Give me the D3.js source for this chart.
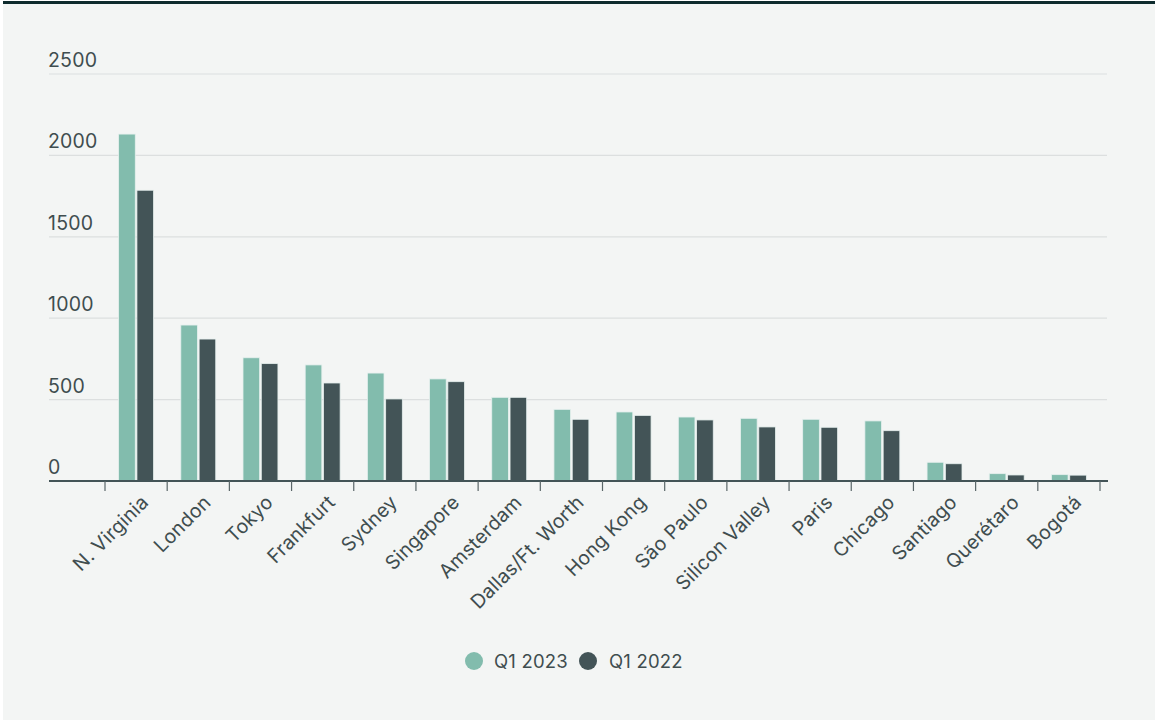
<!DOCTYPE html>
<html><head><meta charset="utf-8">
<script src="https://cdn.jsdelivr.net/npm/d3@7"></script>
<style>
html,body{margin:0;padding:0;background:#fff;}
svg{display:block;font-family:Inter,"Noto Sans",sans-serif;}
</style></head>
<body><svg id="c" width="1159" height="724"></svg>
<script>
const categories = ["N. Virginia","London","Tokyo","Frankfurt","Sydney","Singapore","Amsterdam","Dallas/Ft. Worth","Hong Kong","São Paulo","Silicon Valley","Paris","Chicago","Santiago","Querétaro","Bogotá"];
const q12023 = [2131,958,757,713,663,627,514,440,424,393,385,379,369,115,45,39];
const q12022 = [1786,872,721,602,504,610,514,379,403,375,332,330,309,106,37,36];
const seriesNames = ["Q1 2023","Q1 2022"];
const yTicks = [0,500,1000,1500,2000,2500];
const colors = ["#82bcad","#435457"];
const textColor = "#3f4d4f";

const svg = d3.select("#c");
svg.append("rect").attr("x",3).attr("y",2).attr("width",1152).attr("height",718).attr("fill","#f3f5f4");
svg.append("rect").attr("x",3).attr("y",1).attr("width",1152).attr("height",3).attr("fill","#0e2b2d");

const left = 49, right = 1107, x0 = 105, x1 = 1100, yTop = 74, yBase = 481;
const y = d3.scaleLinear().domain([0,2500]).range([yBase,yTop]);
const x = d3.scaleBand().domain(categories).range([x0,x1]).paddingInner(0).paddingOuter(0);
const xs = d3.scaleBand().domain(seriesNames).range([0,x.bandwidth()]).paddingInner(0.09).paddingOuter(0.745);

// gridlines + labels
const g = svg.append("g");
yTicks.forEach(t=>{
  if(t>0) g.append("line").attr("x1",left).attr("x2",right).attr("y1",y(t)).attr("y2",y(t)).attr("stroke","#dcdfdf").attr("stroke-width",1.2);
  g.append("text").attr("x",left-1).attr("y",y(t)-7).attr("fill",textColor).attr("font-size",19.5).attr("letter-spacing",0.2).text(t);
});

// bars
const data = [q12023,q12022];
data.forEach((vals,si)=>{
  svg.append("g").selectAll("rect").data(vals).join("rect")
    .attr("x",(d,i)=>x(categories[i])+xs(seriesNames[si]))
    .attr("width",xs.bandwidth())
    .attr("y",d=>y(d))
    .attr("height",d=>yBase-y(d))
    .attr("fill",colors[si])
    .attr("stroke","#e6f0ee").attr("stroke-width",0.8);
});

// x axis
const ax = svg.append("g").attr("transform",`translate(0,${yBase})`);
ax.append("line").attr("x1",left).attr("x2",1108).attr("y1",0).attr("y2",0).attr("stroke","#435457").attr("stroke-width",2);
const tickPos = categories.map(c=>x(c)).concat([x1]);
ax.selectAll("line.t").data(tickPos).join("line").attr("class","t")
  .attr("x1",d=>d).attr("x2",d=>d).attr("y1",0).attr("y2",10).attr("stroke","#5a6668").attr("stroke-width",1.2);
ax.selectAll("text").data(categories).join("text")
  .attr("transform",d=>`translate(${x(d)+x.bandwidth()/2+4},${13}) rotate(-45)`)
  .attr("text-anchor","end").attr("dy","0.7em")
  .attr("fill",textColor).attr("font-size",19.5).attr("letter-spacing",0.2).text(d=>d);

// legend
const lg = svg.append("g");
const items = [{n:"Q1 2023",c:colors[0],cx:474,tx:494},{n:"Q1 2022",c:colors[1],cx:588,tx:609}];
items.forEach(it=>{
  lg.append("circle").attr("cx",it.cx).attr("cy",661).attr("r",9).attr("fill",it.c);
  lg.append("text").attr("x",it.tx).attr("y",668).attr("fill",textColor).attr("font-size",18.5).attr("letter-spacing",0.2).text(it.n);
});
</script></body></html>
